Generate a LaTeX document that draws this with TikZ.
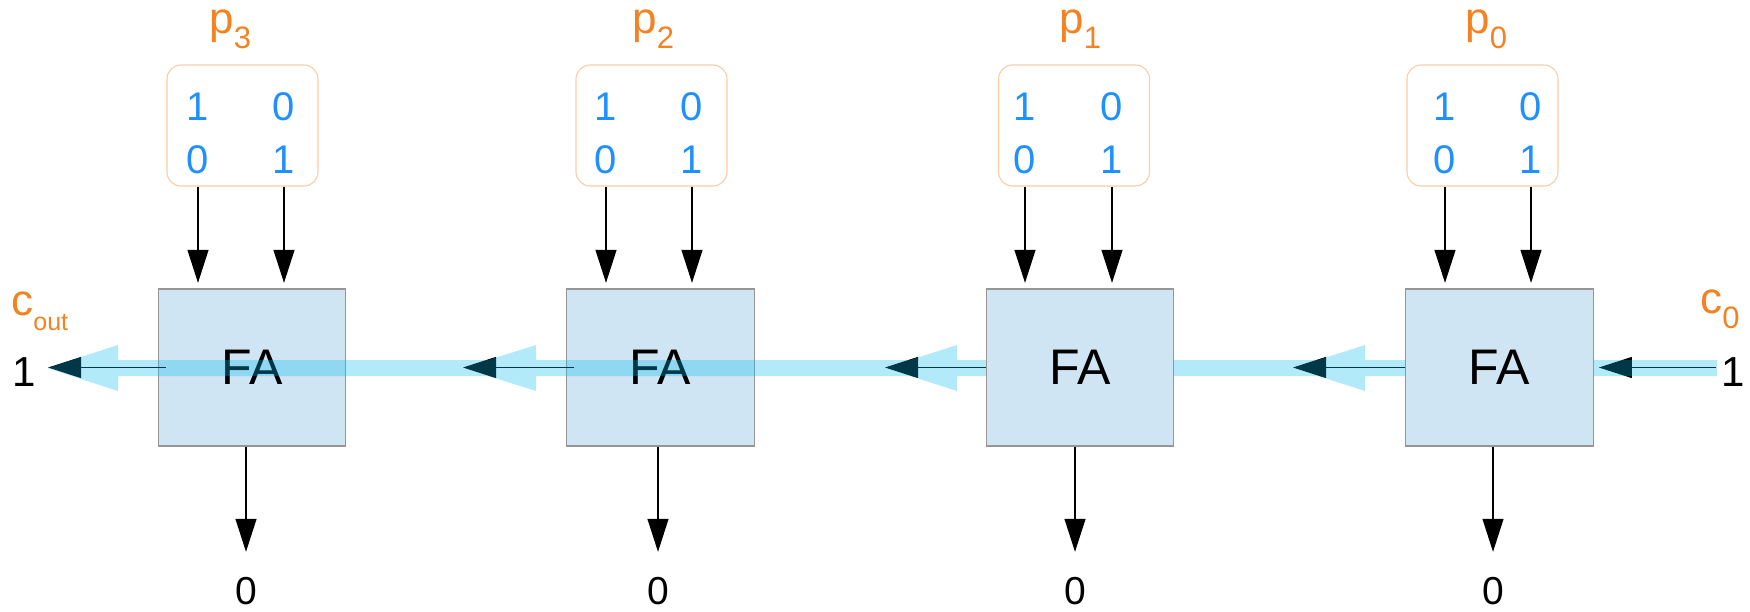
\documentclass[tikz,border=0pt]{standalone}
\usepackage{fontspec}
\setmainfont{Liberation Sans}
\usepackage{tikz}
\usetikzlibrary{arrows.meta}
\usetikzlibrary{positioning}

\definecolor{boxblue}{RGB}{207,229,243}
\definecolor{boxgray}{RGB}{150,150,150}
\definecolor{peach}{RGB}{252,204,165}
\definecolor{bitblue}{RGB}{30,144,255}
\definecolor{labelorange}{RGB}{245,130,32}
\definecolor{carrycyan}{RGB}{0,187,240}

\pgfdeclarelayer{back}
\pgfdeclarelayer{mid}
\pgfsetlayers{back,mid,main}

\newcommand{\lowsub}[2][15.5]{\raisebox{-7.5pt}{\fontsize{#1}{#1}\selectfont #2}}

\tikzset{
	fabox/.style={draw=boxgray, fill=boxblue, line width=0.65pt, minimum width=93.75pt, minimum height=78.5pt, inner sep=0pt, font=\fontsize{25}{30}\selectfont},
	pbox/.style={draw=peach, rounded corners=7pt, minimum width=75.5pt, minimum height=60.5pt, line width=0.55pt},
	bit/.style={text=bitblue, inner sep=0pt, font=\fontsize{20}{24}\selectfont},
	val/.style={inner sep=0pt, font=\fontsize{21}{25}\selectfont},
	lab/.style={text=labelorange, inner sep=0pt, anchor=base west, font=\fontsize{22}{26}\selectfont},
	feed/.style={-{Triangle[length=16.5pt,width=10.5pt]}, line width=0.6pt},
	band/.style={fill=carrycyan, fill opacity=0.3}
}

\begin{document}
\begin{tikzpicture}[x=0.5pt,y=-0.5pt]
	\useasboundingbox (0,0) rectangle (1750,611);
	
	% full adders (the two on the left lie under the carry band)
	\begin{pgfonlayer}{back}
		\node[fabox] (fa3) at (252,367.5) {FA};
		\node[fabox] (fa2) at (660.5,367.5) {FA};
	\end{pgfonlayer}
	\node[fabox] (fa1) at (1080,367.5) {FA};
	\node[fabox] (fa0) at (1499.5,367.5) {FA};
	
	% input pairs
	\node[pbox] (pb3) at (242.5,125.5) {};
	\node[pbox] (pb2) at (651.5,125.5) {};
	\node[pbox] (pb1) at (1074,125.5) {};
	\node[pbox] (pb0) at (1482.5,125.5) {};
	
	\node[bit] (b3a) at (198,107) {1};   \node[bit] (b3b) at (284,107) {0};
	\node[bit] (b3c) at (198,160) {0};   \node[bit] (b3d) at (284,160) {1};
	\node[bit] (b2a) at (606,107) {1};   \node[bit] (b2b) at (692,107) {0};
	\node[bit] (b2c) at (606,160) {0};   \node[bit] (b2d) at (692,160) {1};
	\node[bit] (b1a) at (1025,107) {1};  \node[bit] (b1b) at (1112,107) {0};
	\node[bit] (b1c) at (1025,160) {0};  \node[bit] (b1d) at (1112,160) {1};
	\node[bit] (b0a) at (1445,107) {1};  \node[bit] (b0b) at (1531,107) {0};
	\node[bit] (b0c) at (1445,160) {0};  \node[bit] (b0d) at (1531,160) {1};
	
	\node[lab] (p3) at (209,33) {p\lowsub{3}};
	\node[lab] (p2) at (632,33) {p\lowsub{2}};
	\node[lab] (p1) at (1059,33) {p\lowsub{1}};
	\node[lab] (p0) at (1465,33) {p\lowsub{0}};
	
	\draw[feed, shorten >=2.75pt] (b3c |- pb3.south) -- (b3c |- fa3.north);
	\draw[feed, shorten >=2.75pt] (b3d |- pb3.south) -- (b3d |- fa3.north);
	\draw[feed, shorten >=2.75pt] (b2c |- pb2.south) -- (b2c |- fa2.north);
	\draw[feed, shorten >=2.75pt] (b2d |- pb2.south) -- (b2d |- fa2.north);
	\draw[feed, shorten >=2.75pt] (b1c |- pb1.south) -- (b1c |- fa1.north);
	\draw[feed, shorten >=2.75pt] (b1d |- pb1.south) -- (b1d |- fa1.north);
	\draw[feed, shorten >=2.75pt] (b0c |- pb0.south) -- (b0c |- fa0.north);
	\draw[feed, shorten >=2.75pt] (b0d |- pb0.south) -- (b0d |- fa0.north);
	
	% sum outputs
	\node[val, font=\fontsize{19.5}{23}\selectfont] (s3) at (246,591) {0};
	\node[val, font=\fontsize{19.5}{23}\selectfont] (s2) at (658,591) {0};
	\node[val, font=\fontsize{19.5}{23}\selectfont] (s1) at (1075,591) {0};
	\node[val, font=\fontsize{19.5}{23}\selectfont] (s0) at (1493,591) {0};
	
	\draw[feed, shorten >=12.5pt] (fa3.south -| s3) -- (s3.north);
	\draw[feed, shorten >=12.5pt] (fa2.south -| s2) -- (s2.north);
	\draw[feed, shorten >=12.5pt] (fa1.south -| s1) -- (s1.north);
	\draw[feed, shorten >=12.5pt] (fa0.south -| s0) -- (s0.north);
	
	% carry in / carry out
	\node[lab] (cout) at (11,315) {c\lowsub[12.5]{out}};
	\node[lab] (cin) at (1700,313) {c\lowsub{0}};
	\node[val] (cout1) at (24,372) {1};
	\node[val] (cin1) at (1733,372) {1};
	
	\coordinate (k0) at (1293,367.5);
	\coordinate (k1) at (885,367.5);
	\coordinate (k2) at (463,367.5);
	
	\begin{pgfonlayer}{mid}
		\draw[feed, line width=0.5pt, shorten <=2.5pt, shorten >=2.5pt] (cin1.west |- fa0.east) -- (fa0.east);
		\draw[feed, line width=0.5pt] (fa0.west) -- (k0);
		\draw[feed, line width=0.5pt] (fa1.west) -- (k1);
		\draw[feed, line width=0.5pt, shorten <=-4pt] (fa2.west) -- (k2);
		\draw[feed, line width=0.5pt, shorten <=-4pt, shorten >=6pt] (fa3.west) -- (cout1.east |- fa3.west);
		
		% the carry running from right to left
		\fill[band] (118,360) -- (1717,360) -- (1717,376) -- (118,376) -- cycle
			(47,368) -- (118,345) -- (118,391) -- cycle
			(463,368) -- (536,345) -- (536,391) -- cycle
			(885,368) -- (957,345) -- (957,391) -- cycle
			(1293,368) -- (1365,345) -- (1365,391) -- cycle;
	\end{pgfonlayer}
\end{tikzpicture}
\end{document}
